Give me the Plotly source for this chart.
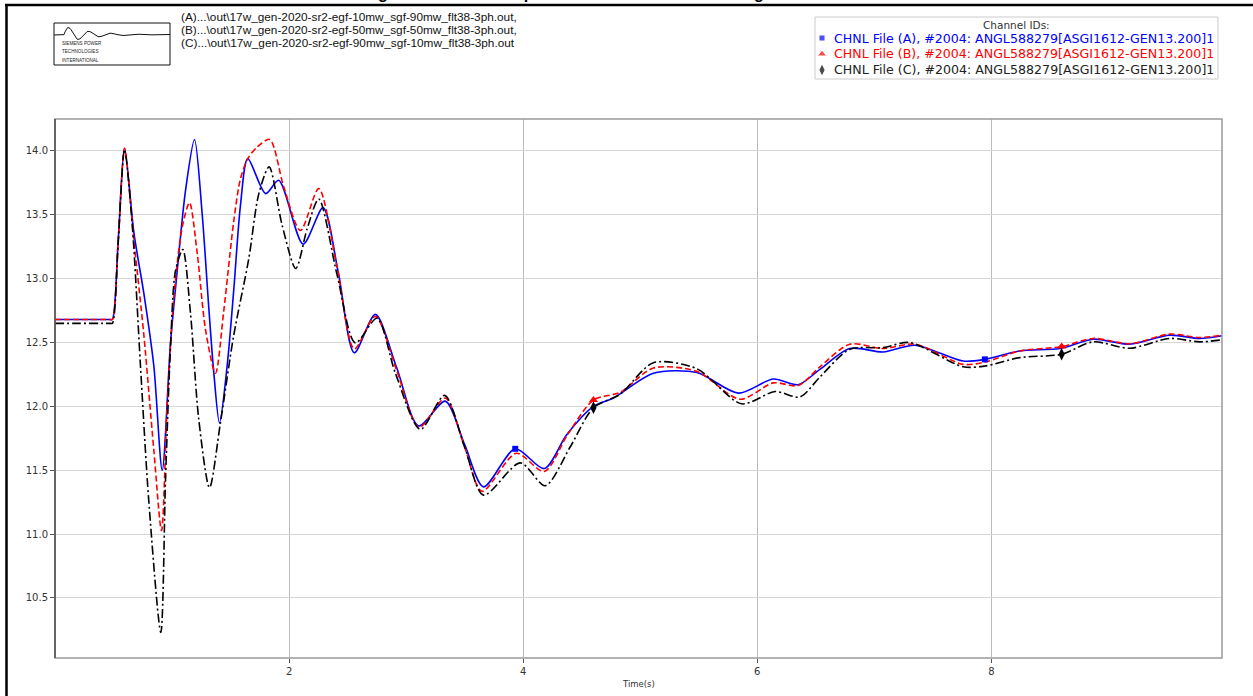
import math
import plotly.graph_objects as go

# ---------------- data ----------------
t_A = [0.0, 0.2, 0.4, 0.47, 0.49, 0.54, 0.594, 0.674, 0.759, 0.844, 0.916, 0.987, 1.044, 1.115, 1.192, 1.257,
       1.314, 1.357, 1.405, 1.471, 1.527, 1.584, 1.647, 1.80, 1.911, 2.12, 2.29, 2.42, 2.557, 2.737, 2.92,
       3.107, 3.334, 3.50, 3.661, 3.932, 4.18, 4.373, 4.60, 4.771, 5.112, 5.483, 5.838, 6.137, 6.35, 6.535,
       6.79, 7.076, 7.346, 7.759, 7.944, 8.243, 8.585, 8.868, 9.182, 9.523, 9.779, 9.969]
y_A = [12.68, 12.68, 12.68, 12.68, 12.68, 13.30, 14.02, 13.36, 12.885, 12.32, 11.50, 12.50, 13.06, 13.69, 14.09, 13.51,
       12.77, 12.26, 11.87, 12.32, 12.91, 13.57, 13.94, 13.666, 13.77, 13.27, 13.556, 13.05, 12.42, 12.72, 12.30,
       11.847, 12.041, 11.70, 11.37, 11.668, 11.513, 11.78, 12.00, 12.065, 12.259, 12.265, 12.104, 12.214, 12.17, 12.29,
       12.453, 12.426, 12.479, 12.355, 12.368, 12.434, 12.453, 12.526, 12.487, 12.558, 12.532, 12.553]

t_B = [0.0, 0.2, 0.4, 0.47, 0.49, 0.54, 0.594, 0.674, 0.759, 0.844, 0.91, 0.958, 1.015, 1.086, 1.149, 1.215,
       1.286, 1.371, 1.442, 1.527, 1.584, 1.647, 1.727, 1.834, 1.954, 2.097, 2.253, 2.41, 2.557, 2.737, 2.92,
       3.11, 3.334, 3.50, 3.647, 3.94, 4.18, 4.38, 4.60, 4.828, 5.112, 5.483, 5.852, 6.137, 6.35, 6.535,
       6.79, 7.076, 7.346, 7.759, 7.944, 8.243, 8.60, 8.868, 9.182, 9.523, 9.779, 9.969]
y_B = [12.68, 12.68, 12.68, 12.68, 12.68, 13.30, 14.02, 13.30, 12.56, 11.66, 11.027, 12.00, 12.85, 13.40, 13.595, 13.20,
       12.60, 12.26, 12.75, 13.45, 13.78, 13.94, 14.03, 14.09, 13.72, 13.377, 13.705, 13.09, 12.45, 12.705, 12.28,
       11.835, 12.065, 11.68, 11.335, 11.633, 11.49, 11.78, 12.05, 12.11, 12.30, 12.274, 12.056, 12.184, 12.163, 12.31,
       12.487, 12.453, 12.487, 12.329, 12.347, 12.434, 12.468, 12.532, 12.49, 12.566, 12.539, 12.558]

t_C = [0.0, 0.2, 0.4, 0.47, 0.49, 0.54, 0.594, 0.66, 0.73, 0.80, 0.904, 0.944, 0.987, 1.029, 1.092, 1.157,
       1.228, 1.32, 1.413, 1.527, 1.655, 1.74, 1.829, 1.94, 2.057, 2.154, 2.253, 2.41, 2.566, 2.751, 2.908,
       3.121, 3.328, 3.50, 3.661, 3.975, 4.188, 4.40, 4.60, 4.828, 5.112, 5.483, 5.866, 6.151, 6.364, 6.535,
       6.79, 7.076, 7.30, 7.759, 7.944, 8.243, 8.60, 8.868, 9.182, 9.523, 9.779, 9.969]
y_C = [12.65, 12.65, 12.65, 12.65, 12.65, 13.28, 14.01, 13.42, 12.32, 11.275, 10.23, 11.42, 12.47, 13.06, 13.228, 12.735,
       11.90, 11.364, 11.87, 12.557, 13.153, 13.66, 13.875, 13.42, 13.08, 13.39, 13.624, 13.03, 12.497, 12.69, 12.26,
       11.82, 12.086, 11.68, 11.305, 11.558, 11.379, 11.68, 11.99, 12.095, 12.342, 12.295, 12.02, 12.116, 12.074, 12.23,
       12.447, 12.46, 12.50, 12.31, 12.316, 12.382, 12.408, 12.505, 12.455, 12.532, 12.505, 12.521]

mk_A_t = [3.932, 7.944]
mk_A_y = [11.668, 12.368]
mk_B_t = [4.60, 8.60]
mk_B_y = [12.05, 12.468]
mk_C_t = [4.60, 8.60]
mk_C_y = [11.99, 12.408]

x_ticks = [2, 4, 6, 8]
y_ticks = [10.5, 11.0, 11.5, 12.0, 12.5, 13.0, 13.5, 14.0]
y_ticktext = ["10.5", "11.0", "11.5", "12.0", "12.5", "13.0", "13.5", "14.0"]

series_names = [
    "CHNL File (A), #2004: ANGL588279[ASGI1612-GEN13.200]1",
    "CHNL File (B), #2004: ANGL588279[ASGI1612-GEN13.200]1",
    "CHNL File (C), #2004: ANGL588279[ASGI1612-GEN13.200]1",
]
file_lines = [
    "(A)...\\out\\17w_gen-2020-sr2-egf-10mw_sgf-90mw_flt38-3ph.out,",
    "(B)...\\out\\17w_gen-2020-sr2-egf-50mw_sgf-50mw_flt38-3ph.out,",
    "(C)...\\out\\17w_gen-2020-sr2-egf-90mw_sgf-10mw_flt38-3ph.out",
]
title_text = "ASGI1612 Rotor Angle: 17W 2020 Comparison of EGF and SGF Mixing"

# ---------------- geometry (figure pixels) ----------------
FW, FH = 1253, 696
L, R, T, B = 55, 1222, 119, 658


def PX(x):
    return x / FW


def PY(y):
    return 1 - y / FH


colors = ["#0000ff", "#ff0000", "#000000"]
fig = go.Figure()

fig.add_trace(go.Scatter(x=t_A, y=y_A, mode="lines", showlegend=False,
                         line=dict(color=colors[0], width=1.6, shape="spline", smoothing=0.8)))
fig.add_trace(go.Scatter(x=t_B, y=y_B, mode="lines", showlegend=False,
                         line=dict(color=colors[1], width=1.6, dash="6px,3px", shape="spline", smoothing=0.8)))
fig.add_trace(go.Scatter(x=t_C, y=y_C, mode="lines", showlegend=False,
                         line=dict(color=colors[2], width=1.6, dash="9px,3px,2px,3px", shape="spline", smoothing=0.8)))

fig.add_trace(go.Scatter(x=mk_A_t, y=mk_A_y, mode="markers", showlegend=False,
                         marker=dict(symbol="square", size=6, color=colors[0])))
fig.add_trace(go.Scatter(x=mk_B_t, y=mk_B_y, mode="markers", showlegend=False,
                         marker=dict(symbol="triangle-up", size=8, color=colors[1])))
fig.add_trace(go.Scatter(x=mk_C_t, y=mk_C_y, mode="markers", showlegend=False,
                         marker=dict(symbol="diamond-tall", size=9, color=colors[2])))

# ---- decorations on a full-figure pixel axis (x2/y2) ----
leg_x, leg_y0, leg_dy = 822, 38, 16
fig.add_trace(go.Scatter(x=[leg_x, leg_x, leg_x], y=[leg_y0, leg_y0 + leg_dy, leg_y0 + 2 * leg_dy],
                         xaxis="x2", yaxis="y2", mode="markers", showlegend=False, hoverinfo="skip",
                         marker=dict(symbol=["square", "triangle-up", "diamond-tall"], size=[6, 8, 9],
                                     color=colors)))

lx0, lx1, ly0, ly1 = 54, 170, 23, 65
wx, wy = [], []
xx = lx0
while xx <= lx1:
    if xx < 64:
        yy = 35
    else:
        yy = 34.6 - 8.5 * math.exp(-(xx - 64) / 26) * math.sin(2 * math.pi * (xx - 64) / 19 * (1 - (xx - 64) / 500))
    wx.append(xx)
    wy.append(yy)
    xx += 1
fig.add_trace(go.Scatter(x=wx, y=wy, xaxis="x2", yaxis="y2", mode="lines", showlegend=False, hoverinfo="skip",
                         line=dict(color="#111111", width=1)))

shapes = []
annotations = []

# outer page frame (scanned document border)
shapes.append(dict(type="line", xref="paper", yref="paper", x0=PX(5), x1=PX(FW + 5), y0=PY(5), y1=PY(5),
                   line=dict(color="#000000", width=2.5)))
shapes.append(dict(type="line", xref="paper", yref="paper", x0=PX(6.5), x1=PX(6.5), y0=PY(4), y1=PY(FH + 5),
                   line=dict(color="#000000", width=2.5)))

# plot frame
shapes.append(dict(type="rect", xref="paper", yref="paper", x0=PX(L), x1=PX(R), y0=PY(B), y1=PY(T),
                   line=dict(color="#9a9a9a", width=1.5), layer="above"))
shapes.append(dict(type="line", xref="paper", yref="paper", x0=PX(L), x1=PX(L), y0=PY(B), y1=PY(T),
                   line=dict(color="#333333", width=1.2), layer="above"))

# logo box and text
shapes.append(dict(type="rect", xref="paper", yref="paper", x0=PX(lx0), x1=PX(lx1), y0=PY(ly1), y1=PY(ly0),
                   line=dict(color="#111111", width=1)))
for i, s in enumerate(["SIEMENS POWER", "TECHNOLOGIES", "INTERNATIONAL"]):
    annotations.append(dict(text=s, xref="paper", yref="paper", x=PX(61), y=PY(44 + 8 * i),
                            xanchor="left", yanchor="middle", showarrow=False, borderpad=0,
                            font=dict(family="Liberation Sans", size=4.6, color="#222222")))

# file list
for i, s in enumerate(file_lines):
    annotations.append(dict(text=s, xref="paper", yref="paper", x=PX(180), y=PY(17 + 13 * i),
                            xanchor="left", yanchor="middle", showarrow=False, borderpad=0,
                            font=dict(family="Liberation Sans", size=11.8, color="#111111")))

# cut-off title at the very top
annotations.append(dict(text="<b>" + title_text + "</b>", xref="paper", yref="paper", x=PX(230), y=PY(3.5),
                        xanchor="left", yanchor="bottom", showarrow=False, borderpad=0,
                        font=dict(family="Liberation Sans", size=16, color="#000000")))

# manual legend
shapes.append(dict(type="rect", xref="paper", yref="paper", x0=PX(815), x1=PX(1218), y0=PY(79), y1=PY(17),
                   line=dict(color="#cccccc", width=1), fillcolor="#ffffff", layer="below"))
annotations.append(dict(text="Channel IDs:", xref="paper", yref="paper", x=PX(1016), y=PY(25),
                        xanchor="center", yanchor="middle", showarrow=False, borderpad=0,
                        font=dict(family="DejaVu Sans", size=10.5, color="#333333")))
for i, s in enumerate(series_names):
    annotations.append(dict(text=s, xref="paper", yref="paper", x=PX(833), y=PY(leg_y0 + leg_dy * i),
                            xanchor="left", yanchor="middle", showarrow=False, borderpad=0,
                            font=dict(family="DejaVu Sans", size=12.6,
                                      color=colors[i] if i < 2 else "#222222")))

# x-axis title
annotations.append(dict(text="Time(s)", xref="paper", yref="paper", x=PX((L + R) / 2), y=PY(684),
                        xanchor="center", yanchor="middle", showarrow=False, borderpad=0,
                        font=dict(family="DejaVu Sans", size=8.5, color="#333333")))

fig.update_layout(
    width=FW, height=FH,
    margin=dict(l=0, r=0, t=0, b=0, pad=0),
    paper_bgcolor="#ffffff", plot_bgcolor="rgba(0,0,0,0)",
    showlegend=False,
    xaxis=dict(domain=[PX(L), PX(R)], anchor="y", range=[0, 9.97], tickvals=x_ticks, ticks="outside",
               ticklen=4, tickwidth=1, tickcolor="#555555", showgrid=True, gridcolor="#bcbcbc", gridwidth=1,
               zeroline=False, showline=False,
               tickfont=dict(family="DejaVu Sans", size=10, color="#333333")),
    yaxis=dict(domain=[PY(B), PY(T)], anchor="x", range=[10.03, 14.25], tickvals=y_ticks, ticktext=y_ticktext,
               ticks="outside", ticklen=4, tickwidth=1, tickcolor="#555555", showgrid=True, gridcolor="#d6d6d6",
               gridwidth=1, zeroline=False, showline=False,
               tickfont=dict(family="DejaVu Sans", size=10, color="#333333")),
    xaxis2=dict(domain=[0, 1], anchor="y2", range=[0, FW], visible=False, fixedrange=True),
    yaxis2=dict(domain=[0, 1], anchor="x2", range=[FH, 0], visible=False, fixedrange=True),
    shapes=shapes,
    annotations=annotations,
)

fig.write_html("out.html")
